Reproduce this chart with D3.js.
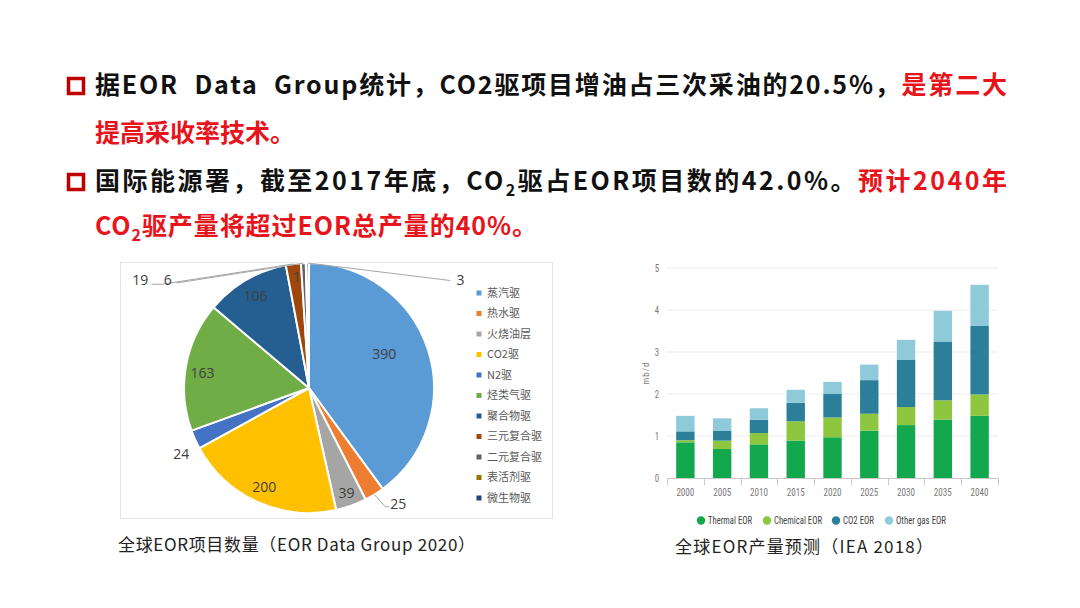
<!DOCTYPE html>
<html><head><meta charset="utf-8">
<script src="https://cdn.jsdelivr.net/npm/d3@7/dist/d3.min.js"></script>
<style>
html,body{margin:0;padding:0;background:#fff;}
svg{display:block;}
</style></head>
<body>
<svg id="c" width="1080" height="608"></svg>
<script>
// ---------- data ----------
const pieCategories = ["蒸汽驱","热水驱","火烧油层","CO2驱","N2驱","烃类气驱","聚合物驱","三元复合驱","二元复合驱","表活剂驱","微生物驱"];
const pieValues = [390,25,39,200,24,163,106,19,6,1,3];
const pieColors = ["#5B9BD5","#ED7D31","#A5A5A5","#FFC000","#4472C4","#70AD47","#255E91","#9E480E","#636363","#997300","#264478"];

const years = ["2000","2005","2010","2015","2020","2025","2030","2035","2040"];
const thermalEOR = [0.85,0.69,0.80,0.89,0.97,1.13,1.26,1.39,1.48];
const chemicalEOR = [0.05,0.20,0.27,0.46,0.47,0.40,0.43,0.46,0.51];
const co2EOR = [0.21,0.24,0.32,0.44,0.56,0.80,1.12,1.40,1.63];
const otherGasEOR = [0.37,0.29,0.27,0.31,0.29,0.37,0.48,0.73,0.98];
const barSeries = ["Thermal EOR","Chemical EOR","CO2 EOR","Other gas EOR"];
const barColors = ["#14A84E","#8DC63F","#2B7F99","#8FCADB"];
const yTicks = [0,1,2,3,4,5];

const svg = d3.select("#c");
const RED = "#E8141B", BLACK = "#111";
const CJK = "'Noto Sans CJK SC','Noto Sans',sans-serif";

// ---------- header text ----------
const lines = [
  {y:94, target:912, ws:8, parts:[{t:"据EOR Data Group统计，CO2驱项目增油占三次采油的20.5%，",c:BLACK},{t:"是第二大",c:RED}], bullet:true},
  {y:142, target:null, parts:[{t:"提高采收率技术。",c:RED}]},
  {y:190, target:912, parts:[{t:"国际能源署，截至2017年底，CO",c:BLACK},{t:"2",c:BLACK,sub:true},{t:"驱占EOR项目数的42.0%。",c:BLACK},{t:"预计2040年",c:RED}], bullet:true},
  {y:235, target:442, parts:[{t:"CO",c:RED},{t:"2",c:RED,sub:true},{t:"驱产量将超过EOR总产量的40%。",c:RED}]}
];
lines.forEach(L=>{
  if(L.bullet){
    svg.append("rect").attr("x",68.5).attr("y",L.y-15.5).attr("width",15).attr("height",15)
      .attr("fill","none").attr("stroke","#C00000").attr("stroke-width",3.5);
  }
  const t = svg.append("text").attr("x",95).attr("y",L.y)
    .attr("font-family",CJK).attr("font-weight",700).attr("font-size",25);
  if(L.ws) t.attr("word-spacing",L.ws);
  let prevSub=false;
  L.parts.forEach(p=>{
    const ts = t.append("tspan").text(p.t).attr("fill",p.c);
    if(p.sub){ ts.attr("font-size",16).attr("dy",6); prevSub=true; }
    else if(prevSub){ ts.attr("dy",-6); prevSub=false; }
  });
  if(L.target){
    t.attr("textLength",L.target).attr("lengthAdjust","spacing");
  }
});

// ---------- pie chart ----------
const pieG = svg.append("g");
pieG.append("rect").attr("x",120.5).attr("y",262.5).attr("width",432).attr("height",256)
  .attr("fill","none").attr("stroke","#E3E3E3").attr("stroke-width",1);

const cx = 309, cy = 388, R = 125;
const pie = d3.pie().sort(null).value(d=>d)(pieValues);
const arc = d3.arc().innerRadius(0).outerRadius(R);
const g = pieG.append("g").attr("transform",`translate(${cx},${cy})`);
g.selectAll("path").data(pie).join("path")
  .attr("d",arc).attr("fill",(d,i)=>pieColors[i])
  .attr("stroke","#fff").attr("stroke-width",2).attr("stroke-linejoin","round");

// label placement style: radius factor and angle offset (deg); leader lines for tiny slices
const labelStyle = [
  {rf:0.66, da:-6},
  {leader:true, lx:0.61, ly:0.95, lx2:0.64, tx:0.65, ty:0.93, anchor:"start"},
  {rf:0.89, da:0},
  {rf:0.87, da:0},
  {rf:1.15, da:-3},
  {rf:0.86, da:-2},
  {rf:0.85, da:0},
  {leader:true, lx:-1.18, ly:-0.83, lx2:-1.26, tx:-1.35, ty:-0.86, anchor:"middle"},
  {leader:true, lx:-1.06, ly:-0.84, tx:-1.13, ty:-0.86, anchor:"middle"},
  {rf:0.89, da:-5},
  {leader:true, lx:1.13, ly:-0.86, tx:1.18, ty:-0.86, anchor:"start"}
];
const deg = Math.PI/180;
pie.forEach((d,i)=>{
  const s = labelStyle[i];
  const mid = (d.startAngle+d.endAngle)/2;
  let x,y,anchor="middle";
  if(s.leader){
    const ex = Math.sin(mid)*R, ey = -Math.cos(mid)*R;
    const pts = [[ex,ey],[s.lx*R,s.ly*R]];
    if(s.lx2!==undefined) pts.push([s.lx2*R,s.ly*R]);
    g.append("polyline").attr("points",pts.map(p=>p.join(",")).join(" "))
      .attr("fill","none").attr("stroke","#A6A6A6").attr("stroke-width",1);
    x = s.tx*R; y = s.ty*R; anchor=s.anchor;
  } else {
    const a = mid + s.da*deg;
    x = Math.sin(a)*R*s.rf; y = -Math.cos(a)*R*s.rf;
  }
  g.append("text").attr("x",x).attr("y",y).attr("dy","0.35em")
    .attr("text-anchor",anchor).attr("font-family","'Open Sans','Noto Sans',sans-serif")
    .attr("font-size",14).attr("fill","#404040").text(pieValues[i]);
});

// legend
const lg = pieG.append("g").attr("transform","translate(479,293)");
pieCategories.forEach((c,i)=>{
  const it = lg.append("g").attr("transform",`translate(0,${i*20.5})`);
  it.append("rect").attr("x",-2.5).attr("y",-2.5).attr("width",5).attr("height",5).attr("fill",pieColors[i]);
  it.append("text").attr("x",8).attr("dy","0.35em").attr("font-family",CJK)
    .attr("font-size",11).attr("fill","#595959").text(c);
});

svg.append("text").attr("x",118).attr("y",551).attr("font-family",CJK)
  .attr("font-size",17).attr("fill","#222").attr("textLength",357).attr("lengthAdjust","spacing")
  .text("全球EOR项目数量（EOR Data Group 2020）");

// ---------- stacked bar chart ----------
const narrow = "'Liberation Sans Narrow','Roboto Condensed','Arial Narrow','Liberation Sans',sans-serif";
const x = d3.scaleBand().domain(years).range([667,998]).paddingInner(0.5).paddingOuter(0.25);
const y = d3.scaleLinear().domain([0,5]).range([478,268]);
const bg = svg.append("g");

bg.selectAll("line.grid").data(yTicks.filter(t=>t>0)).join("line")
  .attr("x1",667).attr("x2",998).attr("y1",d=>y(d)).attr("y2",d=>y(d))
  .attr("stroke","#EBEBEB").attr("stroke-width",1);

const tableRows = years.map((yr,i)=>({year:yr, "Thermal EOR":thermalEOR[i], "Chemical EOR":chemicalEOR[i], "CO2 EOR":co2EOR[i], "Other gas EOR":otherGasEOR[i]}));
const stacked = d3.stack().keys(barSeries)(tableRows);
bg.selectAll("g.series").data(stacked).join("g").attr("fill",(d,i)=>barColors[i])
  .selectAll("rect").data(d=>d).join("rect")
  .attr("x",d=>x(d.data.year)).attr("width",x.bandwidth())
  .attr("y",d=>y(d[1])).attr("height",d=>y(d[0])-y(d[1]));

// x axis
const step = x.step();
bg.append("line").attr("x1",667).attr("x2",998).attr("y1",478.5).attr("y2",478.5).attr("stroke","#C8C8C8");
const bounds = years.map(yr=>x(yr)+x.bandwidth()/2-step/2).concat([x(years[years.length-1])+x.bandwidth()/2+step/2]);
bg.selectAll("line.tk").data(bounds).join("line")
  .attr("x1",d=>Math.round(d)+0.5).attr("x2",d=>Math.round(d)+0.5).attr("y1",478).attr("y2",485)
  .attr("stroke","#C8C8C8");
bg.selectAll("text.xl").data(years).join("text")
  .attr("x",d=>x(d)+x.bandwidth()/2-9).attr("y",495.5)
  .attr("font-family",narrow).attr("font-size",11).attr("fill","#7A7A7A")
  .attr("textLength",18).attr("lengthAdjust","spacingAndGlyphs").text(d=>d);
// y axis labels
bg.selectAll("text.yl").data(yTicks).join("text")
  .attr("x",659).attr("y",d=>y(d)).attr("dy","0.35em").attr("text-anchor","end")
  .attr("font-family",narrow).attr("font-size",11).attr("fill","#7A7A7A")
  .attr("transform",d=>`translate(659,${y(d)}) scale(0.8,1) translate(-659,${-y(d)})`).text(d=>d);
bg.append("text").attr("transform","translate(649,373) rotate(-90)").attr("text-anchor","middle")
  .attr("font-family",narrow).attr("font-size",9).attr("fill","#7A7A7A").attr("letter-spacing",1).text("mb/d");

// bar legend
const legX = [701,767,836,889];
const legW = [44,48,31,50];
barSeries.forEach((s,i)=>{
  bg.append("circle").attr("cx",legX[i]).attr("cy",520.5).attr("r",4.2).attr("fill",barColors[i]);
  bg.append("text").attr("x",legX[i]+7).attr("y",520.5).attr("dy","0.35em")
    .attr("font-family",narrow).attr("font-size",11).attr("fill","#444")
    .attr("textLength",legW[i]).attr("lengthAdjust","spacingAndGlyphs").text(s);
});

svg.append("text").attr("x",675).attr("y",553).attr("font-family",CJK)
  .attr("font-size",17).attr("fill","#222").attr("textLength",258).attr("lengthAdjust","spacing")
  .text("全球EOR产量预测（IEA 2018）");
</script>
</body></html>
